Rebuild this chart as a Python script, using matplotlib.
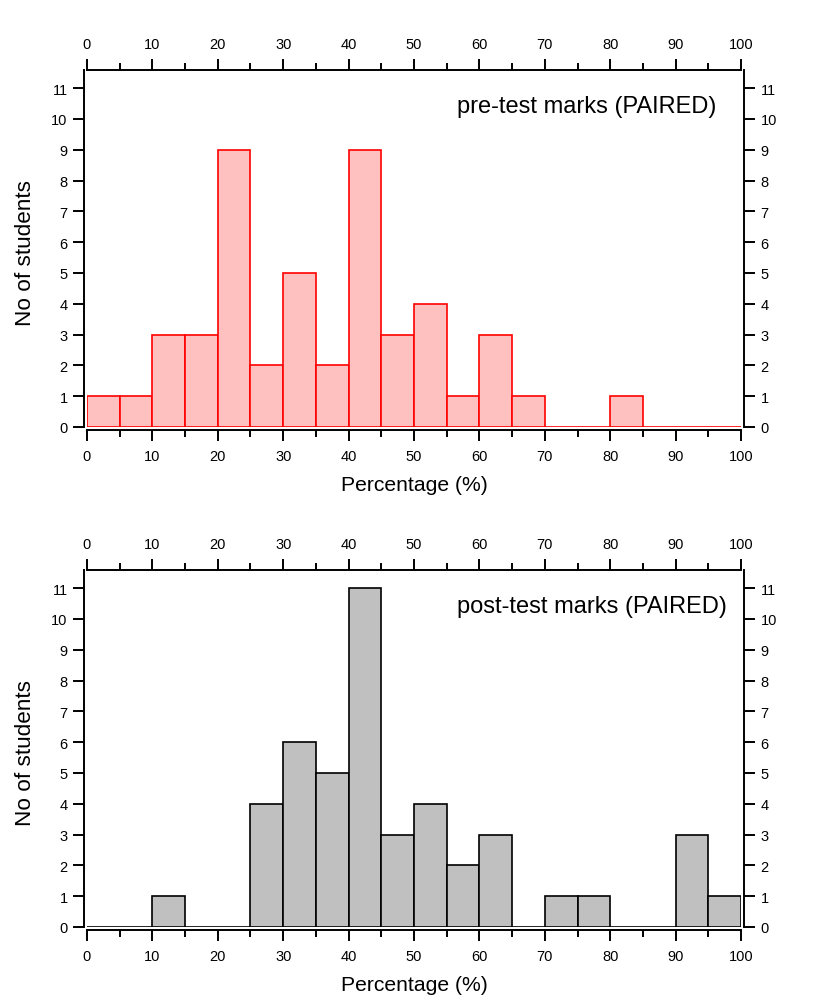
"""
Pre-test vs post-test mark histograms (paired students)
"""
import numpy as np
import matplotlib
matplotlib.use('Agg')
import matplotlib.pyplot as plt
from matplotlib.ticker import MultipleLocator

plt.rcParams['font.family'] = ['Liberation Sans', 'DejaVu Sans']

# bin left edges (percent) and counts per 5% bin
bin_left = [0, 5, 10, 15, 20, 25, 30, 35, 40, 45, 50, 55, 60, 65, 70, 75, 80, 85, 90, 95]
bin_width = 5
pre_counts = [1, 1, 3, 3, 9, 2, 5, 2, 9, 3, 4, 1, 3, 1, 0, 0, 1, 0, 0, 0]
post_counts = [0, 0, 1, 0, 0, 4, 6, 5, 11, 3, 4, 2, 3, 0, 1, 1, 0, 0, 3, 1]

panels = [
    (pre_counts, '#FFC0C0', '#FF0000', 'pre-test marks (PAIRED)', 0.963, 0.5733),
    (post_counts, '#C0C0C0', '#000000', 'post-test marks (PAIRED)', 0.979, 0.0748),
]

fig = plt.figure(figsize=(8.3, 10.03), dpi=100)

for counts, face, edge, label, label_x, bottom in panels:
    ax = fig.add_axes([0.1048, bottom, 0.788, 0.356])
    ax.bar(bin_left, counts, width=bin_width, align='edge',
           facecolor=face, edgecolor=edge, linewidth=1.2, zorder=2)

    ax.set_xlim(0, 100)
    ax.set_ylim(0, 11.59)

    # Igor-style axes: ticks outside, labels on all four sides
    for side in ['left', 'right', 'bottom']:
        ax.spines[side].set_position(('outward', 2))
    for sp in ax.spines.values():
        sp.set_linewidth(1.4)

    ax.xaxis.set_major_locator(MultipleLocator(10))
    ax.xaxis.set_minor_locator(MultipleLocator(5))
    ax.yaxis.set_major_locator(MultipleLocator(1))

    ax.tick_params(axis='both', which='both', direction='out',
                   top=True, right=True, labeltop=True, labelright=True,
                   labelsize=10.5, width=1.4)
    ax.tick_params(axis='x', which='major', length=8, pad=5.5)
    ax.tick_params(axis='x', which='minor', length=4.8)
    ax.tick_params(axis='y', which='major', length=8, pad=4)

    ax.set_xlabel('Percentage (%)', fontsize=15.2)
    ax.xaxis.set_label_coords(0.5, -0.135)
    ax.set_ylabel('No of students', fontsize=16.2)
    ax.yaxis.set_label_coords(-0.078, 0.49)

    ax.text(label_x, 0.899, label, transform=ax.transAxes,
            ha='right', va='center', fontsize=17)

plt.savefig('out.png', dpi=100)
